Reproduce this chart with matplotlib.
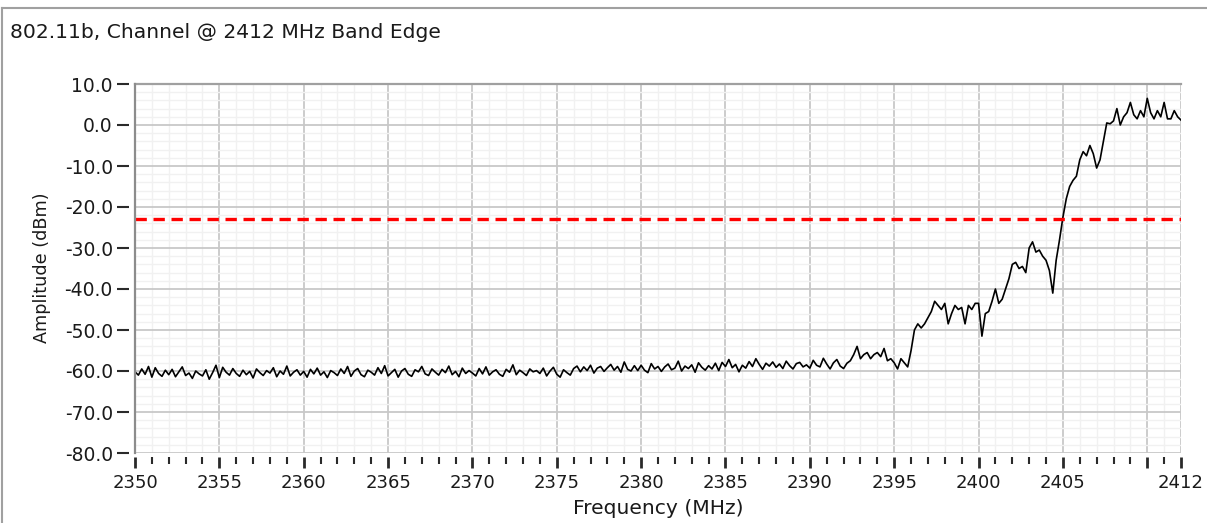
import numpy as np
import matplotlib
matplotlib.use("Agg")
import matplotlib.pyplot as plt
from matplotlib.ticker import MultipleLocator, FormatStrFormatter, FixedLocator
from matplotlib.lines import Line2D

plt.rcParams['axes.unicode_minus'] = False
plt.rcParams['font.family'] = ['DejaVu Sans']

# Sweep settings (MHz)
f_start = 2350.0
f_step = 0.2

# Noise floor, 2350.0 - 2392.2 MHz (dBm)
noise_dbm = [
    -60.2, -61.0, -59.5, -60.8, -58.9, -61.5, -59.2, -60.6, -61.3, -59.8,
    -60.9, -59.6, -61.4, -60.2, -59.0, -61.1, -60.5, -61.8, -60.0, -60.7,
    -61.2, -59.7, -62.0, -60.4, -58.6, -61.6, -59.1, -60.3, -61.0, -59.4,
    -60.6, -61.3, -59.8, -60.9, -60.1, -61.7, -59.5, -60.4, -61.1, -59.9,
    -60.5, -59.2, -61.4, -60.0, -60.8, -58.8, -61.2, -60.3, -59.7, -61.0,
    -60.1, -61.5, -59.6, -60.7, -59.3, -61.0, -60.2, -61.6, -59.9, -60.4,
    -61.1, -59.5, -60.6, -58.9, -61.3, -60.0, -59.4, -60.9, -61.4, -59.8,
    -60.3, -61.0, -59.2, -60.6, -58.7, -61.2, -60.4, -59.6, -61.5, -60.0,
    -59.4, -60.8, -61.3, -59.7, -60.2, -58.9, -60.7, -61.1, -59.5, -60.3,
    -61.0, -59.6, -60.4, -58.8, -60.9, -60.1, -61.4, -59.3, -60.6, -59.9,
    -60.5, -61.2, -59.4, -60.7, -59.0, -61.0, -60.2, -59.7, -60.8, -61.3,
    -59.6, -60.3, -58.5, -60.9, -59.8, -60.4, -61.1, -59.5, -60.2, -59.9,
    -60.6, -59.3, -61.2, -60.0, -59.1, -60.8, -61.5, -59.7, -60.4, -61.0,
    -59.4, -58.8, -60.2, -59.0, -59.9, -58.6, -60.5, -59.3, -58.9, -60.1,
    -59.2, -58.4, -59.8, -58.9, -60.3, -57.8, -59.6, -60.0, -58.7, -59.9,
    -58.6, -59.8, -60.4, -58.2, -59.5, -58.9, -60.1, -59.0, -58.3, -59.7,
    -59.3, -57.6, -60.0, -58.8, -59.4, -58.5, -60.3, -58.0, -59.1, -59.8,
    -58.7, -59.5, -58.1, -59.9, -57.9, -58.9, -57.2, -59.2, -58.4, -60.2,
    -58.6, -59.3, -57.7, -58.9, -57.0, -58.4, -59.6, -58.1, -58.8, -57.8,
    -59.1, -58.3, -59.4, -57.6, -58.7, -59.5, -58.2, -57.9, -59.0, -58.5,
    -59.3, -57.4, -58.6, -59.0, -56.9, -58.3, -59.5, -58.0, -57.2, -58.8,
    -59.4, -58.1,
]

# Band edge / channel skirt, 2392.4 - 2412.0 MHz (dBm)
edge_dbm = [
    -57.5, -56.0, -54.0, -57.0, -56.0, -55.5, -57.0, -56.0, -55.5, -56.5,
    -54.5, -57.5, -57.0, -58.0,
    -59.5, -57.0, -58.0, -59.0, -55.0, -50.0, -48.5, -49.5, -48.5, -47.0,
    -45.5, -43.0, -44.0, -45.0, -43.5, -48.5, -46.0, -44.0, -45.0, -44.5,
    -48.5, -44.0, -45.0, -43.5, -43.5,
    -51.5, -46.0, -45.5, -43.0, -40.0, -43.5, -42.5, -40.0, -37.5, -34.0,
    -33.5, -35.0, -34.5, -36.0, -30.0, -28.5, -31.0, -30.5, -32.0, -33.0,
    -35.5, -41.0, -33.0, -28.0, -22.5,
    -18.0, -15.0, -13.5, -12.5, -8.5, -6.5, -7.5, -5.0, -7.0, -10.5,
    -8.5, -4.0, 0.5, 0.3, 1.0, 4.0, 0.0, 2.0, 3.0, 5.5,
    2.5, 1.5, 3.5, 2.0, 6.5,
    3.0, 1.5, 3.5, 2.0, 5.5, 1.5, 1.5, 3.5, 2.0, 1.2,
]

limit_dbm = -23.0

x_ticks = [2350, 2355, 2360, 2365, 2370, 2375, 2380, 2385, 2390, 2395, 2400, 2405, 2410, 2412]
x_labels = ["2350", "2355", "2360", "2365", "2370", "2375", "2380", "2385",
            "2390", "2395", "2400", "2405", "", "2412"]
y_ticks = [10, 0, -10, -20, -30, -40, -50, -60, -70, -80]

amp = np.array(noise_dbm + edge_dbm)
freq = f_start + f_step * np.arange(len(amp))

W, H = 1207, 523
fig = plt.figure(figsize=(W / 100, H / 100), dpi=100)
ax = fig.add_axes([135 / W, 70 / H, 1046 / W, 369 / H])

ax.plot(freq, amp, color="black", lw=1.2, zorder=3)
ax.axhline(limit_dbm, color="#ff0000", lw=2.4, linestyle=(0, (3.4, 2.0)), zorder=4)

ax.set_xlim(2350, 2412)
ax.set_ylim(-80, 10)

# ticks
ax.xaxis.set_major_locator(FixedLocator(x_ticks))
ax.set_xticklabels(x_labels)
ax.xaxis.set_minor_locator(MultipleLocator(1))
ax.yaxis.set_major_locator(FixedLocator(y_ticks))
ax.yaxis.set_major_formatter(FormatStrFormatter("%.1f"))
ax.yaxis.set_minor_locator(MultipleLocator(2))

ax.tick_params(axis="x", which="major", length=8, width=2, color="#2a2a2a",
               labelsize=13, pad=4, labelcolor="#1a1a1a")
ax.tick_params(axis="x", which="minor", length=5, width=1.5, color="#2a2a2a")
ax.tick_params(axis="y", which="major", length=9, width=1.5, color="#2a2a2a",
               labelsize=13.5, pad=3, labelcolor="#1a1a1a")
ax.tick_params(axis="y", which="minor", length=0)

# grid
ax.set_axisbelow(True)
ax.grid(which="major", color="#c8c8c8", lw=1.3)
ax.grid(which="minor", color="#f1f1f1", lw=1.0)

# detached ticks: move spines out, hide them, draw the border separately
ax.spines["left"].set_position(("outward", 4))
ax.spines["bottom"].set_position(("outward", 3))
for s in ["left", "bottom", "right"]:
    ax.spines[s].set_visible(False)
ax.spines["top"].set_color("#a0a0a0")
ax.spines["top"].set_linewidth(1.6)
ax.axvline(2350, color="#8c8c8c", lw=1.6, clip_on=False, zorder=5)

# texts
fig.text(10 / W, 1 - 32 / H, "802.11b, Channel @ 2412 MHz Band Edge",
         fontsize=14.6, ha="left", va="center", color="#1a1a1a")
fig.text(658 / W, 1 - 508 / H, "Frequency (MHz)", fontsize=14.6,
         ha="center", va="center", color="#1a1a1a")
fig.text(42 / W, 1 - 268 / H, "Amplitude (dBm)", fontsize=12.7, rotation=90,
         ha="center", va="center", color="#1a1a1a")

# outer panel frame
fig.add_artist(Line2D([2 / W, 2 / W], [0, 1 - 8 / H], transform=fig.transFigure,
                      color="#a0a0a0", lw=1.5))
fig.add_artist(Line2D([2 / W, 1], [1 - 8 / H, 1 - 8 / H], transform=fig.transFigure,
                      color="#a0a0a0", lw=1.5))

fig.savefig("out.png", dpi=100)
